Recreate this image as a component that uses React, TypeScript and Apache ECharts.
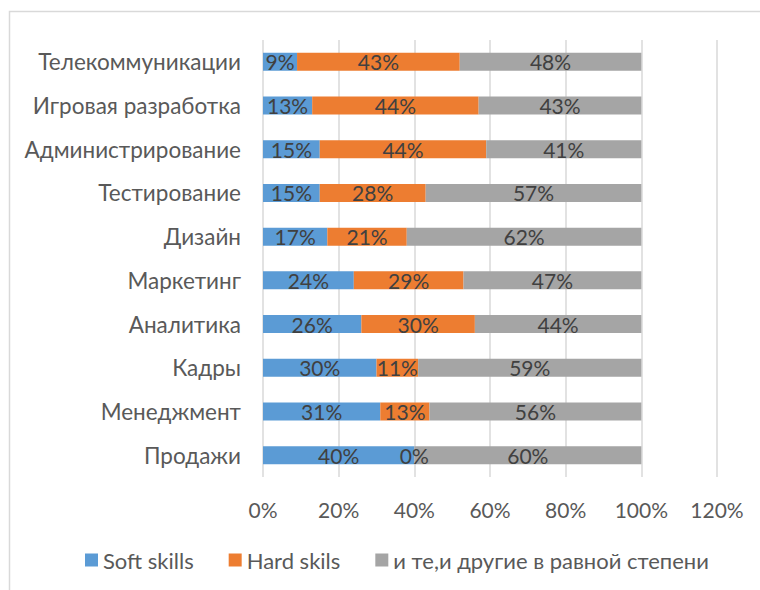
import React, { useEffect, useRef } from "react";
import * as echarts from "echarts";

const categories = [
  "Продажи",
  "Менеджмент",
  "Кадры",
  "Аналитика",
  "Маркетинг",
  "Дизайн",
  "Тестирование",
  "Администрирование",
  "Игровая разработка",
  "Телекоммуникации",
];
const softSkills = [40, 31, 30, 26, 24, 17, 15, 15, 13, 9];
const hardSkills = [0, 13, 11, 30, 29, 21, 28, 44, 44, 43];
const bothSkills = [60, 56, 59, 44, 47, 62, 57, 41, 43, 48];
const seriesNames = ["Soft skills", "Hard skils", "и те,и другие в равной степени"];
const colors = ["#5b9bd5", "#ed7d31", "#a5a5a5"];

const FONT = "Lato, 'Noto Sans', sans-serif";

export default function App() {
  const ref = useRef<HTMLDivElement>(null);
  useEffect(() => {
    if (!ref.current) return;
    const chart = echarts.init(ref.current, null, { renderer: "svg" });
    const mk = (name: string, data: number[], color: string) => ({
      name,
      type: "bar",
      stack: "total",
      data,
      barWidth: 18,
      itemStyle: { color },
      label: {
        show: true,
        position: "inside",
        formatter: "{c}%",
        color: "#404040",
        fontSize: 21,
        fontFamily: FONT,
      },
    });
    chart.setOption({
      animation: false,
      textStyle: { fontFamily: FONT },
      color: colors,
      graphic: [
        {
          type: "rect",
          shape: { x: 9.5, y: 11.5, width: 800, height: 700 },
          style: { fill: "none", stroke: "#d9d9d9", lineWidth: 1.5 },
          silent: true,
        },
      ],
      grid: { left: 263, right: 43, top: 40, bottom: 113, containLabel: false },
      xAxis: {
        type: "value",
        min: 0,
        max: 120,
        interval: 20,
        axisLabel: {
          formatter: "{value}%",
          color: "#595959",
          fontSize: 21,
          fontFamily: FONT,
          margin: 22,
        },
        splitLine: { show: true, lineStyle: { color: "#d9d9d9", width: 1.5 } },
        axisLine: { show: false },
        axisTick: { show: false },
      },
      yAxis: {
        type: "category",
        data: categories,
        axisLabel: {
          color: "#595959",
          fontSize: 22.5,
          fontFamily: FONT,
          margin: 22,
        },
        axisLine: { show: false },
        axisTick: { show: false },
      },
      legend: {
        bottom: 14,
        left: 80,
        itemWidth: 13,
        itemHeight: 13,
        itemGap: 35,
        icon: "rect",
        textStyle: { color: "#595959", fontSize: 22, fontFamily: FONT },
        data: seriesNames,
      },
      series: [
        mk(seriesNames[0], softSkills, colors[0]),
        mk(seriesNames[1], hardSkills, colors[1]),
        mk(seriesNames[2], bothSkills, colors[2]),
      ],
    });
    return () => chart.dispose();
  }, []);
  return (
    <div
      ref={ref}
      style={{ position: "fixed", left: 0, top: 0, width: 760, height: 590, background: "#fff" }}
    />
  );
}
